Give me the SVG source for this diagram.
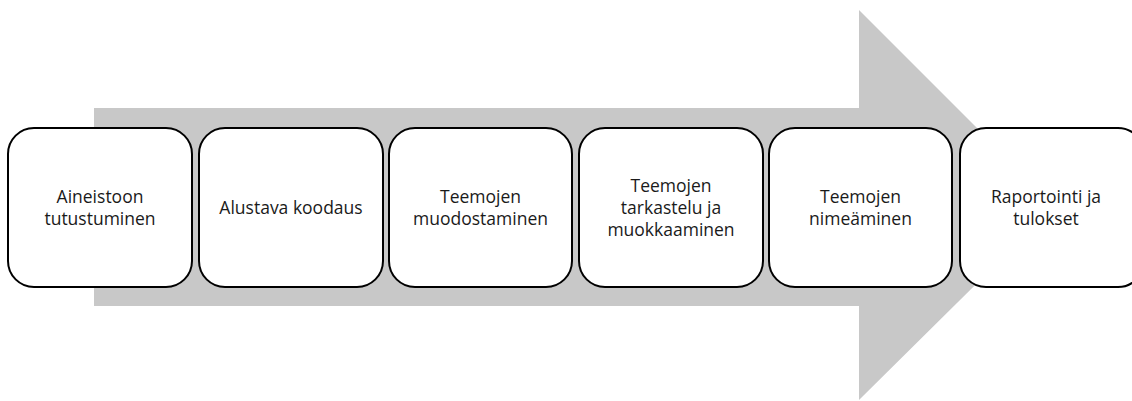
<svg xmlns="http://www.w3.org/2000/svg" width="1132" height="401" viewBox="0 0 1132 401">
<style>
.box{fill:#ffffff;stroke:#000000;stroke-width:2}
.lbl{font-family:"Open Sans","Liberation Sans",sans-serif;font-size:17.5px;fill:#1a1a1a;text-anchor:middle}
</style>
<rect width="1132" height="401" fill="#ffffff"/>
<g id="arrow">
<polygon points="94,108 859,108 859,10 1055,206 859,400 859,306 94,306" fill="#c8c8c8"/>
</g>
<g id="connectors"></g>
<g id="n1"><rect class="box" x="8" y="128" width="184" height="159" rx="26"/>
<text class="lbl" x="100" y="203">Aineistoon</text><text class="lbl" x="100" y="225">tutustuminen</text></g>
<g id="n2"><rect class="box" x="199" y="128" width="184" height="159" rx="26"/>
<text class="lbl" x="291" y="214">Alustava koodaus</text></g>
<g id="n3"><rect class="box" x="389" y="128" width="183" height="159" rx="26"/>
<text class="lbl" x="480.5" y="203">Teemojen</text><text class="lbl" x="480.5" y="225">muodostaminen</text></g>
<g id="n4"><rect class="box" x="579" y="128" width="184" height="159" rx="26"/>
<text class="lbl" x="671" y="192">Teemojen</text><text class="lbl" x="671" y="214">tarkastelu ja</text><text class="lbl" x="671" y="236">muokkaaminen</text></g>
<g id="n5"><rect class="box" x="769" y="128" width="183" height="159" rx="26"/>
<text class="lbl" x="860.5" y="203">Teemojen</text><text class="lbl" x="860.5" y="225">nimeäminen</text></g>
<g id="n6"><rect class="box" x="960" y="128" width="184" height="159" rx="26"/>
<text class="lbl" x="1046" y="203">Raportointi ja</text><text class="lbl" x="1046" y="225">tulokset</text></g>
</svg>
